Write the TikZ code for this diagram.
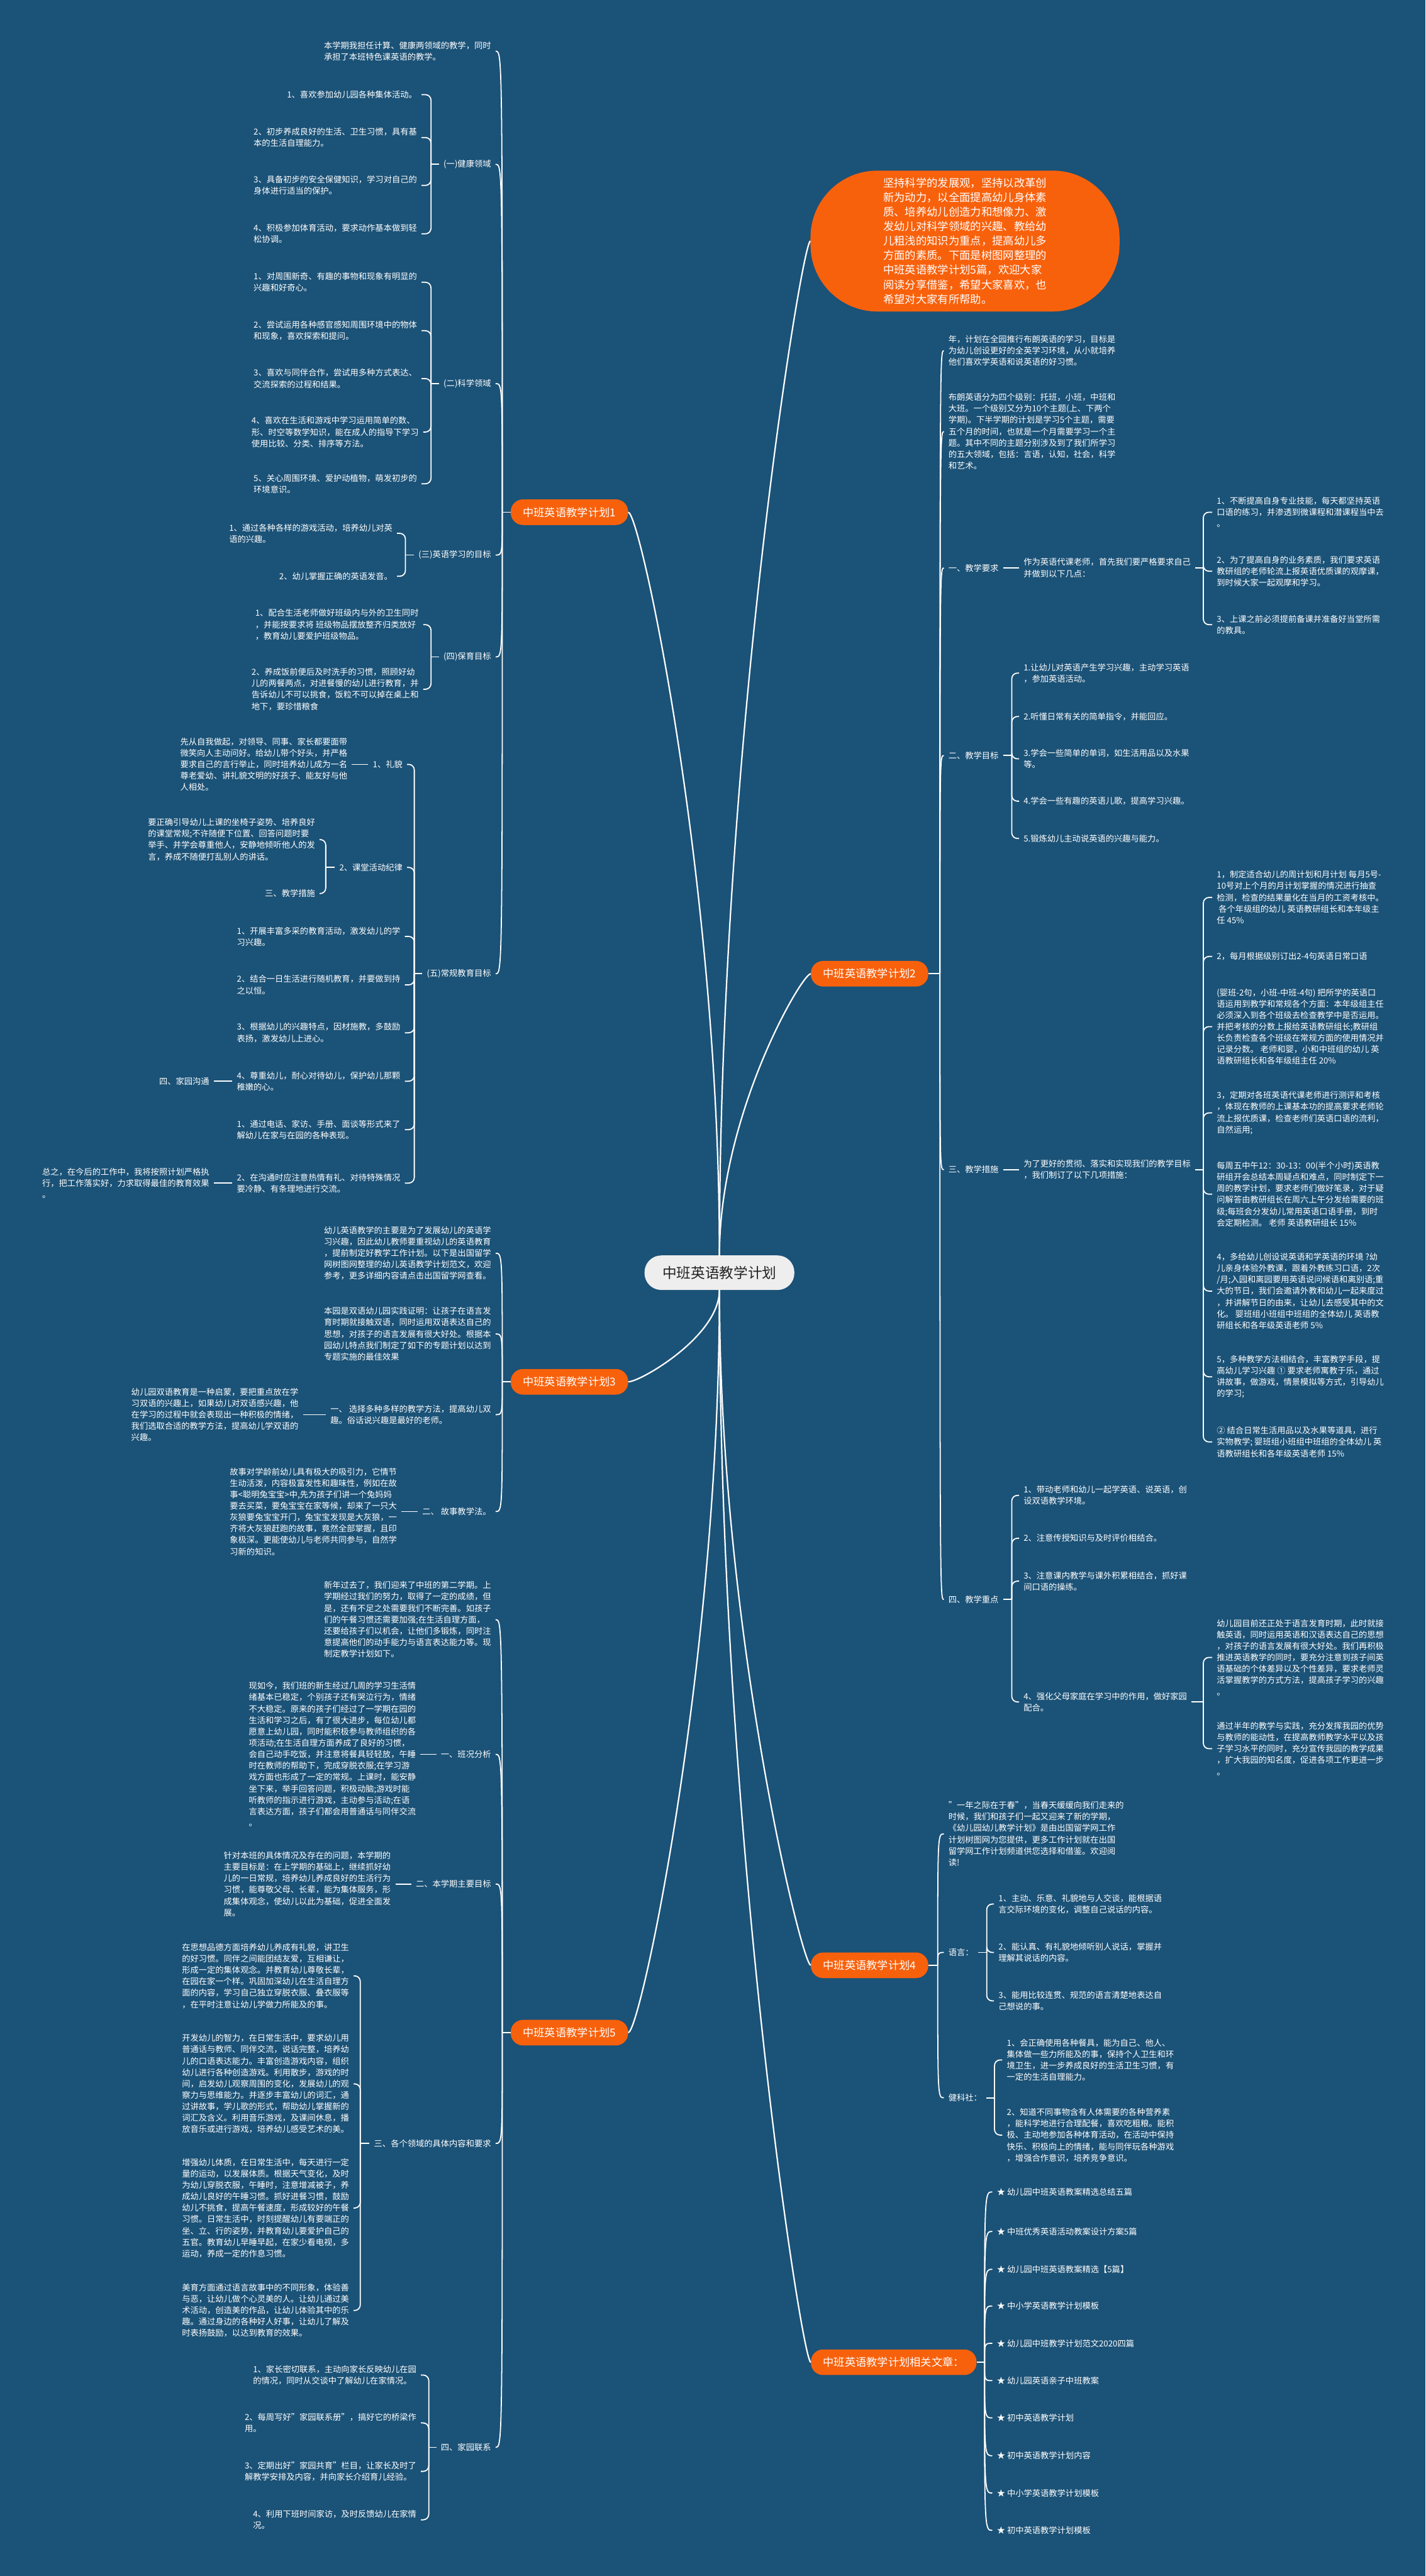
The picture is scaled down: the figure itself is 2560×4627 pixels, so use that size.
\documentclass[tikz,border=0pt]{standalone}
\usepackage{fontspec}
\setmainfont{Noto Sans CJK SC}
\definecolor{bgC}{RGB}{27,82,119}
\definecolor{orgC}{RGB}{248,97,12}
\definecolor{rootT}{RGB}{34,34,34}
\definecolor{rootF}{RGB}{238,238,238}
\newcommand\txtf{\fontsize{15}{20.5}\selectfont}
\newcommand\orgf{\fontsize{19.5}{24}\selectfont}
\newcommand\bigf{\fontsize{19.6}{26}\selectfont}
\newcommand\rootf{\fontsize{25.6}{30}\selectfont}
\newcommand\lkL[2]{\draw[conn] (#1) .. controls (#1 |- #2.east) and (#1 |- #2.east) .. (#2.east);}
\newcommand\lkR[2]{\draw[conn] (#1) .. controls (#1 |- #2.west) and (#1 |- #2.west) .. (#2.west);}
\newcommand\brL[2]{\draw[conn,rounded corners=10pt] (#1) |- (#2.east);}
\newcommand\brR[2]{\draw[conn,rounded corners=10pt] (#1) |- (#2.west);}
\tikzset{
  tl/.style={anchor=east, align=left, text=white, inner xsep=8pt, inner ysep=0pt, font=\txtf},
  tr/.style={anchor=west, align=left, text=white, inner xsep=8pt, inner ysep=0pt, font=\txtf},
  onode/.style={fill=orgC, text=white, rounded corners=22pt, minimum height=46pt, inner xsep=22pt, inner ysep=0pt, font=\orgf},
  bignode/.style={fill=orgC, text=white, rounded corners=120pt, minimum width=555pt, minimum height=253pt, align=left, inner sep=0pt, font=\bigf},
  cnode/.style={fill=rootF, text=rootT, rounded corners=30pt, minimum width=269pt, minimum height=62pt, inner sep=0pt, font=\rootf},
  conn/.style={draw=white, line width=2pt},
  mconn/.style={draw=white, line width=2.5pt}
}
\begin{document}
\begin{tikzpicture}[x=1pt,y=-1pt]
\fill[bgC] (0,0) rectangle (2560,4627);
\useasboundingbox (0,0) rectangle (2560,4627);

% ---------- root and top-level ----------
\node[cnode] (root) at (1292,2286) {中班英语教学计划};
\node[bignode] (top) at (1733,433) {坚持科学的发展观，坚持以改革创\\新为动力，以全面提高幼儿身体素\\质、培养幼儿创造力和想像力、激\\发幼儿对科学领域的兴趣、教给幼\\儿粗浅的知识为重点，提高幼儿多\\方面的素质。下面是树图网整理的\\中班英语教学计划5篇，欢迎大家\\阅读分享借鉴，希望大家喜欢，也\\希望对大家有所帮助。};
\node[onode, anchor=west] (p1) at (917,920) {中班英语教学计划1};
\node[onode, anchor=west] (p3) at (917,2482) {中班英语教学计划3};
\node[onode, anchor=west] (p5) at (917,3651) {中班英语教学计划5};
\node[onode, anchor=west] (p2) at (1456,1749) {中班英语教学计划2};
\node[onode, anchor=west] (p4) at (1456,3530) {中班英语教学计划4};
\node[onode, anchor=west] (p6) at (1456,4243) {中班英语教学计划相关文章：};

% ---------- plan 1 ----------
\node[tl] (a0) at (890,92) {本学期我担任计算、健康两领域的教学，同时\\承担了本班特色课英语的教学。};
\node[tl] (a1) at (890,295) {(一)健康领域};
\node[tl] (a11) at (757,170) {1、喜欢参加幼儿园各种集体活动。};
\node[tl] (a12) at (757,247) {2、初步养成良好的生活、卫生习惯，具有基\\本的生活自理能力。};
\node[tl] (a13) at (757,333) {3、具备初步的安全保健知识，学习对自己的\\身体进行适当的保护。};
\node[tl] (a14) at (757,420) {4、积极参加体育活动，要求动作基本做到轻\\松协调。};
\node[tl] (a2) at (890,689) {(二)科学领域};
\node[tl] (a21) at (757,507) {1、对周围新奇、有趣的事物和现象有明显的\\兴趣和好奇心。};
\node[tl] (a22) at (757,594) {2、尝试运用各种感官感知周围环境中的物体\\和现象，喜欢探索和提问。};
\node[tl] (a23) at (757,680) {3、喜欢与同伴合作，尝试用多种方式表达、\\交流探索的过程和结果。};
\node[tl] (a24) at (760,776) {4、喜欢在生活和游戏中学习运用简单的数、\\形、时空等数学知识，能在成人的指导下学习\\使用比较、分类、排序等方法。};
\node[tl] (a25) at (757,869) {5、关心周围环境、爱护动植物，萌发初步的\\环境意识。};
\node[tl] (a3) at (890,997) {(三)英语学习的目标};
\node[tl] (a31) at (713,958) {1、通过各种各样的游戏活动，培养幼儿对英\\语的兴趣。};
\node[tl] (a32) at (713,1035) {2、幼儿掌握正确的英语发音。};
\node[tl] (a4) at (890,1180) {(四)保育目标};
\node[tl] (a41) at (760,1122) {1、配合生活老师做好班级内与外的卫生同时\\，并能按要求将 班级物品摆放整齐归类放好\\，教育幼儿要爱护班级物品。};
\node[tl] (a42) at (760,1238) {2、养成饭前便后及时洗手的习惯，照顾好幼\\儿的两餐两点，对进餐慢的幼儿进行教育，并\\告诉幼儿不可以挑食，饭粒不可以掉在桌上和\\地下，要珍惜粮食};
\node[tl] (a5) at (890,1749) {(五)常规教育目标};
\node[tl] (a51) at (731,1373) {1、礼貌};
\node[tl] (a511) at (632,1373) {先从自我做起，对领导、同事、家长都要面带\\微笑向人主动问好。给幼儿带个好头，并严格\\要求自己的言行举止，同时培养幼儿成为一名\\尊老爱幼、讲礼貌文明的好孩子、能友好与他\\人相处。};
\node[tl] (a52) at (731,1558) {2、课堂活动纪律};
\node[tl] (a521) at (574,1508) {要正确引导幼儿上课的坐椅子姿势、培养良好\\的课堂常规;不许随便下位置、回答问题时要\\举手、并学会尊重他人，安静地倾听他人的发\\言，养成不随便打乱别人的讲话。};
\node[tl] (a522) at (574,1605) {三、教学措施};
\node[tl] (a53) at (727,1682) {1、开展丰富多采的教育活动，激发幼儿的学\\习兴趣。};
\node[tl] (a54) at (727,1769) {2、结合一日生活进行随机教育，并要做到持\\之以恒。};
\node[tl] (a55) at (727,1855) {3、根据幼儿的兴趣特点，因材施教，多鼓励\\表扬，激发幼儿上进心。};
\node[tl] (a56) at (727,1942) {4、尊重幼儿，耐心对待幼儿，保护幼儿那颗\\稚嫩的心。};
\node[tl] (a561) at (384,1942) {四、家园沟通};
\node[tl] (a57) at (727,2029) {1、通过电话、家访、手册、面谈等形式来了\\解幼儿在家与在园的各种表现。};
\node[tl] (a58) at (727,2125) {2、在沟通时应注意热情有礼、对待特殊情况\\要冷静、有条理地进行交流。};
\node[tl] (a581) at (384,2125) {总之，在今后的工作中，我将按照计划严格执\\行，把工作落实好，力求取得最佳的教育效果\\。};

% ---------- plan 3 ----------
\node[tl] (b0) at (890,2251) {幼儿英语教学的主要是为了发展幼儿的英语学\\习兴趣，因此幼儿教师要重视幼儿的英语教育\\，提前制定好教学工作计划。以下是出国留学\\网树图网整理的幼儿英语教学计划范文，欢迎\\参考，更多详细内容请点击出国留学网查看。};
\node[tl] (b1) at (890,2396) {本园是双语幼儿园实践证明：让孩子在语言发\\育时期就接触双语，同时运用双语表达自己的\\思想，对孩子的语言发展有很大好处。根据本\\园幼儿特点我们制定了如下的专题计划以达到\\专题实施的最佳效果};
\node[tl] (b2) at (890,2541) {一、 选择多种多样的教学方法，提高幼儿双\\趣。俗话说兴趣是最好的老师。};
\node[tl] (b21) at (544,2541) {幼儿园双语教育是一种启蒙，要把重点放在学\\习双语的兴趣上，如果幼儿对双语感兴趣，他\\在学习的过程中就会表现出一种积极的情绪，\\我们选取合适的教学方法，提高幼儿学双语的\\兴趣。};
\node[tl] (b3) at (890,2715) {二、 故事教学法。};
\node[tl] (b31) at (721,2715) {故事对学龄前幼儿具有极大的吸引力，它情节\\生动活泼，内容极富发性和趣味性，例如在故\\事<聪明兔宝宝>中,先为孩子们讲一个兔妈妈\\要去买菜，要兔宝宝在家等候，却来了一只大\\灰狼要兔宝宝开门，兔宝宝发现是大灰狼，一\\齐将大灰狼赶跑的故事，竟然全部掌握，且印\\象极深。更能使幼儿与老师共同参与，自然学\\习新的知识。};

% ---------- plan 5 ----------
\node[tl] (c0) at (890,2909) {新年过去了，我们迎来了中班的第二学期。上\\学期经过我们的努力，取得了一定的成绩，但\\是，还有不足之处需要我们不断完善。如孩子\\们的午餐习惯还需要加强;在生活自理方面，\\还要给孩子们以机会，让他们多锻炼，同时注\\意提高他们的动手能力与语言表达能力等。现\\制定教学计划如下。};
\node[tl] (c1) at (890,3151) {一、班况分析};
\node[tl] (c11) at (755,3151) {现如今，我们班的新生经过几周的学习生活情\\绪基本已稳定，个别孩子还有哭泣行为，情绪\\不大稳定。原来的孩子们经过了一学期在园的\\生活和学习之后，有了很大进步，每位幼儿都\\愿意上幼儿园，同时能积极参与教师组织的各\\项活动;在生活自理方面养成了良好的习惯，\\会自己动手吃饭，并注意将餐具轻轻放，午睡\\时在教师的帮助下，完成穿脱衣服;在学习游\\戏方面也形成了一定的常规。上课时，能安静\\坐下来，举手回答问题，积极动脑;游戏时能\\听教师的指示进行游戏，主动参与活动;在语\\言表达方面，孩子们都会用普通话与同伴交流\\。};
\node[tl] (c2) at (890,3384) {二、本学期主要目标};
\node[tl] (c21) at (710,3384) {针对本班的具体情况及存在的问题，本学期的\\主要目标是：在上学期的基础上，继续抓好幼\\儿的一日常规，培养幼儿养成良好的生活行为\\习惯，能尊敬父母、长辈，能为集体服务，形\\成集体观念，使幼儿以此为基础，促进全面发\\展。};
\node[tl] (c3) at (890,3850) {三、各个领域的具体内容和要求};
\node[tl] (c31) at (635,3549) {在思想品德方面培养幼儿养成有礼貌，讲卫生\\的好习惯。同伴之间能团结友爱，互相谦让，\\形成一定的集体观念。并教育幼儿尊敬长辈，\\在园在家一个样。巩固加深幼儿在生活自理方\\面的内容，学习自己独立穿脱衣服、叠衣服等\\，在平时注意让幼儿学做力所能及的事。};
\node[tl] (c32) at (635,3743) {开发幼儿的智力，在日常生活中，要求幼儿用\\普通话与教师、同伴交流，说话完整，培养幼\\儿的口语表达能力。丰富创造游戏内容，组织\\幼儿进行各种创造游戏。利用散步，游戏的时\\间，启发幼儿观察周围的变化，发展幼儿的观\\察力与思维能力。并逐步丰富幼儿的词汇，通\\过讲故事，学儿歌的形式，帮助幼儿掌握新的\\词汇及含义。利用音乐游戏，及课间休息，播\\放音乐或进行游戏，培养幼儿感受艺术的美。};
\node[tl] (c33) at (635,3966) {增强幼儿体质，在日常生活中，每天进行一定\\量的运动，以发展体质。根据天气变化，及时\\为幼儿穿脱衣服，午睡时，注意增减被子，养\\成幼儿良好的午睡习惯。抓好进餐习惯，鼓励\\幼儿不挑食，提高午餐速度，形成较好的午餐\\习惯。日常生活中，时刻提醒幼儿有要端正的\\坐、立、行的姿势，并教育幼儿要爱护自己的\\五官。教育幼儿早睡早起，在家少看电视，多\\运动，养成一定的作息习惯。};
\node[tl] (c34) at (635,4150) {美育方面通过语言故事中的不同形象，体验善\\与恶，让幼儿做个心灵美的人。让幼儿通过美\\术活动，创造美的作品，让幼儿体验其中的乐\\趣。通过身边的各种好人好事，让幼儿了解及\\时表扬鼓励，以达到教育的效果。};
\node[tl] (c4) at (890,4396) {四、家园联系};
\node[tl] (c41) at (756,4266) {1、家长密切联系，主动向家长反映幼儿在园\\的情况，同时从交谈中了解幼儿在家情况。};
\node[tl] (c42) at (756,4352) {2、每周写好"家园联系册"，搞好它的桥梁作\\用。};
\node[tl] (c43) at (756,4439) {3、定期出好"家园共育"栏目，让家长及时了\\解教学安排及内容，并向家长介绍育儿经验。};
\node[tl] (c44) at (756,4526) {4、利用下班时间家访，及时反馈幼儿在家情\\况。};

% ---------- plan 2 ----------
\node[tr] (d0) at (1695,630) {年，计划在全园推行布朗英语的学习，目标是\\为幼儿创设更好的全英学习环境，从小就培养\\他们喜欢学英语和说英语的好习惯。};
\node[tr] (d1) at (1695,775) {布朗英语分为四个级别：托班，小班，中班和\\大班。一个级别又分为10个主题(上、下两个\\学期)。下半学期的计划是学习5个主题，需要\\五个月的时间，也就是一个月需要学习一个主\\题。其中不同的主题分别涉及到了我们所学习\\的五大领域，包括：言语，认知，社会，科学\\和艺术。};
\node[tr] (d2) at (1695,1020) {一、教学要求};
\node[tr] (d21) at (1830,1020) {作为英语代课老师，首先我们要严格要求自己\\并做到以下几点：};
\node[tr] (d211) at (2177,920) {1、不断提高自身专业技能，每天都坚持英语\\口语的练习，并渗透到微课程和潜课程当中去\\。};
\node[tr] (d212) at (2177,1026) {2、为了提高自身的业务素质，我们要求英语\\教研组的老师轮流上报英语优质课的观摩课，\\到时候大家一起观摩和学习。};
\node[tr] (d213) at (2177,1122) {3、上课之前必须提前备课并准备好当堂所需\\的教具。};
\node[tr] (d3) at (1695,1357) {二、教学目标};
\node[tr] (d31) at (1830,1209) {1.让幼儿对英语产生学习兴趣，主动学习英语\\，参加英语活动。};
\node[tr] (d32) at (1830,1287) {2.听懂日常有关的简单指令，并能回应。};
\node[tr] (d33) at (1830,1363) {3.学会一些简单的单词，如生活用品以及水果\\等。};
\node[tr] (d34) at (1830,1439) {4.学会一些有趣的英语儿歌，提高学习兴趣。};
\node[tr] (d35) at (1830,1506) {5.锻炼幼儿主动说英语的兴趣与能力。};
\node[tr] (d4) at (1695,2101) {三、教学措施};
\node[tr] (d41) at (1830,2101) {为了更好的贯彻、落实和实现我们的教学目标\\，我们制订了以下几项措施：};
\node[tr] (d411) at (2177,1612) {1，制定适合幼儿的周计划和月计划 每月5号-\\10号对上个月的月计划掌握的情况进行抽查\\检测，检查的结果量化在当月的工资考核中。\\\ 各个年级组的幼儿 英语教研组长和本年级主\\任 45\%};
\node[tr] (d412) at (2177,1718) {2，每月根据级别订出2-4句英语日常口语};
\node[tr] (d413) at (2177,1844) {(婴班-2句，小班-中班-4句) 把所学的英语口\\语运用到教学和常规各个方面：本年级组主任\\必须深入到各个班级去检查教学中是否运用。\\并把考核的分数上报给英语教研组长;教研组\\长负责检查各个班级在常规方面的使用情况并\\记录分数。 老师和婴，小和中班组的幼儿 英\\语教研组长和各年级组主任 20\%};
\node[tr] (d414) at (2177,1999) {3，定期对各班英语代课老师进行测评和考核\\，体现在教师的上课基本功的提高要求老师轮\\流上报优质课，检查老师们英语口语的流利，\\自然运用;};
\node[tr] (d415) at (2177,2145) {每周五中午12：30-13：00(半个小时)英语教\\研组开会总结本周疑点和难点，同时制定下一\\周的教学计划，要求老师们做好笔录，对于疑\\问解答由教研组长在周六上午分发给需要的班\\级;每班会分发幼儿常用英语口语手册，到时\\会定期检测。 老师 英语教研组长 15\%};
\node[tr] (d416) at (2177,2319) {4，多给幼儿创设说英语和学英语的环境 ?幼\\儿亲身体验外教课，跟着外教练习口语，2次\\/月;入园和离园要用英语说问候语和离别语;重\\大的节日，我们会邀请外教和幼儿一起来度过\\，并讲解节日的由来，让幼儿去感受其中的文\\化。 婴班组小班组中班组的全体幼儿 英语教\\研组长和各年级英语老师 5\%};
\node[tr] (d417) at (2177,2473) {5，多种教学方法相结合，丰富教学手段，提\\高幼儿学习兴趣 ① 要求老师寓教于乐，通过\\讲故事，做游戏，情景模拟等方式，引导幼儿\\的学习;};
\node[tr] (d418) at (2177,2590) {② 结合日常生活用品以及水果等道具，进行\\实物教学; 婴班组小班组中班组的全体幼儿 英\\语教研组长和各年级英语老师 15\%};
\node[tr] (d5) at (1695,2873) {四、教学重点};
\node[tr] (d51) at (1830,2686) {1、带动老师和幼儿一起学英语、说英语，创\\设双语教学环境。};
\node[tr] (d52) at (1830,2763) {2、注意传授知识与及时评价相结合。};
\node[tr] (d53) at (1830,2840) {3、注意课内教学与课外积累相结合，抓好课\\间口语的操练。};
\node[tr] (d54) at (1830,3057) {4、强化父母家庭在学习中的作用，做好家园\\配合。};
\node[tr] (d541) at (2177,2977) {幼儿园目前还正处于语言发育时期，此时就接\\触英语，同时运用英语和汉语表达自己的思想\\，对孩子的语言发展有很大好处。我们再积极\\推进英语教学的同时，要充分注意到孩子间英\\语基础的个体差异以及个性差异，要求老师灵\\活掌握教学的方式方法，提高孩子学习的兴趣\\。};
\node[tr] (d542) at (2177,3141) {通过半年的教学与实践，充分发挥我园的优势\\与教师的能动性，在提高教师教学水平以及孩\\子学习水平的同时，充分宣传我园的教学成果\\，扩大我园的知名度，促进各项工作更进一步\\。};

% ---------- plan 4 ----------
\node[tr] (e0) at (1695,3294) {"一年之际在于春"，当春天缓缓向我们走来的\\时候，我们和孩子们一起又迎来了新的学期，\\《幼儿园幼儿教学计划》是由出国留学网工作\\计划树图网为您提供，更多工作计划就在出国\\留学网工作计划频道供您选择和借鉴。欢迎阅\\读!};
\node[tr] (e1) at (1695,3507) {语言：};
\node[tr] (e11) at (1785,3420) {1、主动、乐意、礼貌地与人交谈，能根据语\\言交际环境的变化，调整自己说话的内容。};
\node[tr] (e12) at (1785,3507) {2、能认真、有礼貌地倾听别人说话，掌握并\\理解其说话的内容。};
\node[tr] (e13) at (1785,3594) {3、能用比较连贯、规范的语言清楚地表达自\\己想说的事。};
\node[tr] (e2) at (1695,3768) {健科社：};
\node[tr] (e21) at (1800,3700) {1、会正确使用各种餐具，能为自己、他人、\\集体做一些力所能及的事，保持个人卫生和环\\境卫生，进一步养成良好的生活卫生习惯，有\\一定的生活自理能力。};
\node[tr] (e22) at (1800,3835) {2、知道不同事物含有人体需要的各种营养素\\，能科学地进行合理配餐，喜欢吃粗粮。能积\\极、主动地参加各种体育活动，在活动中保持\\快乐、积极向上的情绪，能与同伴玩各种游戏\\，增强合作意识，培养竞争意识。};

% ---------- related ----------
\node[tr] (f1) at (1782,3937) {★ 幼儿园中班英语教案精选总结五篇};
\node[tr] (f2) at (1782,4008) {★ 中班优秀英语活动教案设计方案5篇};
\node[tr] (f3) at (1782,4076) {★ 幼儿园中班英语教案精选【5篇】};
\node[tr] (f4) at (1782,4142) {★ 中小学英语教学计划模板};
\node[tr] (f5) at (1782,4209) {★ 幼儿园中班教学计划范文2020四篇};
\node[tr] (f6) at (1782,4276) {★ 幼儿园英语亲子中班教案};
\node[tr] (f7) at (1782,4343) {★ 初中英语教学计划};
\node[tr] (f8) at (1782,4411) {★ 初中英语教学计划内容};
\node[tr] (f9) at (1782,4478) {★ 中小学英语教学计划模板};
\node[tr] (f10) at (1782,4545) {★ 初中英语教学计划模板};

% ---------- control / spine coordinates ----------
\coordinate (k1a) at (1292,1588); \coordinate (k1b) at (1150,920);
\coordinate (kta) at (1292,1344); \coordinate (ktb) at (1440,433);
\coordinate (k2a) at (1292,2002); \coordinate (k2b) at (1440,1749);
\coordinate (k3a) at (1292,2400); \coordinate (k3b) at (1150,2482);
\coordinate (k5a) at (1292,2984); \coordinate (k5b) at (1150,3651);
\coordinate (k4a) at (1292,2924); \coordinate (k4b) at (1440,3530);
\coordinate (k6a) at (1292,3280); \coordinate (k6b) at (1440,4243);
\coordinate (sp1) at (902,920);
\coordinate (sp3) at (902,2482);
\coordinate (sp5) at (902,3651);
\coordinate (sp2) at (1688,1749);
\coordinate (sp4) at (1684,3530);
\coordinate (sp6) at (1768,4243);
\coordinate (sa1) at (774,295);
\coordinate (sa2) at (774,689);
\coordinate (sa3) at (728,997);
\coordinate (sa4) at (774,1180);
\coordinate (sa5) at (744,1749);
\coordinate (sa52) at (585,1558);
\coordinate (sc3) at (647,3850);
\coordinate (sc4) at (770,4396);
\coordinate (sd21) at (2161,1020);
\coordinate (sd3) at (1817,1357);
\coordinate (sd41) at (2161,2101);
\coordinate (sd5) at (1817,2873);
\coordinate (sd54) at (2161,3057);
\coordinate (se1) at (1772,3507);
\coordinate (se2) at (1786,3768);

% ---------- connectors ----------
\draw[mconn] (root.north) .. controls (k1a) and (k1b) .. (p1.east);
\draw[mconn] (root.north) .. controls (kta) and (ktb) .. (top.west);
\draw[mconn] (root.north) .. controls (k2a) and (k2b) .. (p2.west);
\draw[mconn] (root.south) .. controls (k3a) and (k3b) .. (p3.east);
\draw[mconn] (root.south) .. controls (k5a) and (k5b) .. (p5.east);
\draw[mconn] (root.south) .. controls (k4a) and (k4b) .. (p4.west);
\draw[mconn] (root.south) .. controls (k6a) and (k6b) .. (p6.west);

\draw[conn] (p1.west) -- (sp1);
\foreach \c in {a0,a1,a2,a3,a4,a5} {\lkL{sp1}{\c}}
\draw[conn] (p3.west) -- (sp3);
\foreach \c in {b0,b1,b2,b3} {\lkL{sp3}{\c}}
\draw[conn] (p5.west) -- (sp5);
\foreach \c in {c0,c1,c2,c3,c4} {\lkL{sp5}{\c}}
\draw[conn] (p2.east) -- (sp2);
\foreach \c in {d0,d1,d2,d3,d4,d5} {\lkR{sp2}{\c}}
\draw[conn] (p4.east) -- (sp4);
\foreach \c in {e0,e1,e2} {\lkR{sp4}{\c}}
\draw[conn] (p6.east) -- (sp6);
\foreach \c in {f1,f2,f3,f4,f5,f6,f7,f8,f9,f10} {\lkR{sp6}{\c}}

\draw[conn] (a1.west) -- (sa1);
\foreach \c in {a11,a12,a13,a14} {\brL{sa1}{\c}}
\draw[conn] (a2.west) -- (sa2);
\foreach \c in {a21,a22,a23,a24,a25} {\brL{sa2}{\c}}
\draw[conn] (a3.west) -- (sa3);
\foreach \c in {a31,a32} {\brL{sa3}{\c}}
\draw[conn] (a4.west) -- (sa4);
\foreach \c in {a41,a42} {\brL{sa4}{\c}}
\draw[conn] (a5.west) -- (sa5);
\foreach \c in {a51,a52,a53,a54,a55,a56,a57,a58} {\brL{sa5}{\c}}
\draw[conn] (a51.west) -- (a511.east);
\draw[conn] (a52.west) -- (sa52);
\foreach \c in {a521,a522} {\brL{sa52}{\c}}
\draw[conn] (a56.west) -- (a561.east);
\draw[conn] (a58.west) -- (a581.east);

\draw[conn] (b2.west) -- (b21.east);
\draw[conn] (b3.west) -- (b31.east);

\draw[conn] (c1.west) -- (c11.east);
\draw[conn] (c2.west) -- (c21.east);
\draw[conn] (c3.west) -- (sc3);
\foreach \c in {c31,c32,c33,c34} {\brL{sc3}{\c}}
\draw[conn] (c4.west) -- (sc4);
\foreach \c in {c41,c42,c43,c44} {\brL{sc4}{\c}}

\draw[conn] (d2.east) -- (d21.west);
\draw[conn] (d21.east) -- (sd21);
\foreach \c in {d211,d212,d213} {\brR{sd21}{\c}}
\draw[conn] (d3.east) -- (sd3);
\foreach \c in {d31,d32,d33,d34,d35} {\brR{sd3}{\c}}
\draw[conn] (d4.east) -- (d41.west);
\draw[conn] (d41.east) -- (sd41);
\foreach \c in {d411,d412,d413,d414,d415,d416,d417,d418} {\brR{sd41}{\c}}
\draw[conn] (d5.east) -- (sd5);
\foreach \c in {d51,d52,d53,d54} {\brR{sd5}{\c}}
\draw[conn] (d54.east) -- (sd54);
\foreach \c in {d541,d542} {\brR{sd54}{\c}}

\draw[conn] (e1.east) -- (se1);
\foreach \c in {e11,e12,e13} {\brR{se1}{\c}}
\draw[conn] (e2.east) -- (se2);
\foreach \c in {e21,e22} {\brR{se2}{\c}}
\end{tikzpicture}
\end{document}
